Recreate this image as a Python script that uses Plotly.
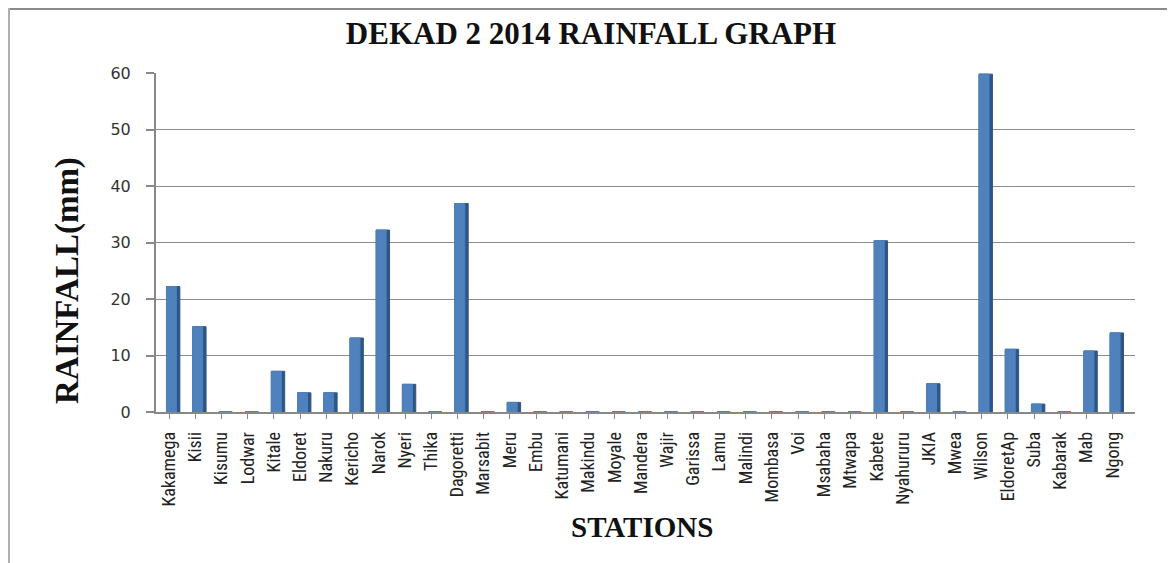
import plotly.graph_objects as go

stations = ["Kakamega", "Kisii", "Kisumu", "Lodwar", "Kitale", "Eldoret", "Nakuru", "Kericho",
            "Narok", "Nyeri", "Thika", "Dagoretti", "Marsabit", "Meru", "Embu", "Katumani",
            "Makindu", "Moyale", "Mandera", "Wajir", "Garissa", "Lamu", "Malindi", "Mombasa",
            "Voi", "Msabaha", "Mtwapa", "Kabete", "Nyahururu", "JKIA", "Mwea", "Wilson",
            "EldoretAp", "Suba", "Kabarak", "Mab", "Ngong"]
rainfall = [22.2, 15.1, 0, 0, 7.2, 3.4, 3.4, 13.1,
            32.2, 4.9, 0, 36.9, 0, 1.7, 0, 0,
            0, 0, 0, 0, 0, 0, 0, 0,
            0, 0, 0, 30.3, 0, 5.0, 0, 59.8,
            11.1, 1.4, 0, 10.8, 14.0]
y_ticks = [0, 10, 20, 30, 40, 50, 60]

OFF = 8  # page body margin
W, H = 1175 - OFF, 563 - OFF
L, R, T, B = 156 - OFF, 1135 - OFF, 73 - OFF, 412 - OFF  # plot area in figure pixels


def px_x(p):
    return (p - OFF - L) / (R - L)


def px_y(p):
    return (B - (p - OFF)) / (B - T)


idx = list(range(len(stations)))

fig = go.Figure()
# darker side face (3D look)
fig.add_trace(go.Bar(x=idx, y=rainfall, width=0.51, offset=-0.1,
                     marker=dict(color="#2E5587", line=dict(color="#2E5587", width=1)),
                     hoverinfo="skip", showlegend=False))
# front face
fig.add_trace(go.Bar(x=idx, y=rainfall, width=0.38, offset=-0.1,
                     marker=dict(color="#4F81BD", line=dict(color="#4F81BD", width=1)),
                     showlegend=False))

serif = "Liberation Serif, Times New Roman, serif"

fig.update_layout(
    width=W, height=H,
    margin=dict(l=L, r=W - R, t=T, b=H - B, pad=0),
    paper_bgcolor="white", plot_bgcolor="white",
    barmode="overlay",
    title=dict(text="<b>DEKAD 2 2014 RAINFALL GRAPH</b>",
               font=dict(family=serif, size=31, color="#111"),
               x=(591 - OFF) / W, xanchor="center", xref="container",
               y=1 - (33 - OFF) / H, yanchor="middle", yref="container"),
    xaxis=dict(
        range=[-0.5, len(stations) - 0.5 + 0.35],
        tickmode="array", tickvals=idx, ticktext=stations,
        tickangle=-90, tickson="boundaries",
        ticks="outside", ticklen=5, tickcolor="#888", tickwidth=1,
        showline=True, linecolor="#888", linewidth=1.5,
        showgrid=False, zeroline=False,
        tickfont=dict(family="Liberation Sans Narrow, Roboto Condensed, Arial Narrow, sans-serif",
                      size=18, color="#222"),
        ticklabelstandoff=6,
    ),
    yaxis=dict(
        range=[0, 60],
        tickmode="array", tickvals=y_ticks,
        ticks="outside", ticklen=8, tickcolor="#888", tickwidth=1.5,
        showline=True, linecolor="#888", linewidth=2,
        showgrid=True, gridcolor="#8C8C8C", gridwidth=1.2,
        zeroline=False,
        tickfont=dict(family="DejaVu Sans, Verdana, sans-serif", size=16, color="#333"),
        ticklabelstandoff=12,
    ),
    annotations=[
        dict(text="<b>RAINFALL(mm)</b>", textangle=-90,
             x=px_x(67), y=px_y(281), xref="paper", yref="paper",
             xanchor="center", yanchor="middle", showarrow=False,
             font=dict(family=serif, size=33, color="#111")),
        dict(text="<b>STATIONS</b>",
             x=px_x(642), y=px_y(527), xref="paper", yref="paper",
             xanchor="center", yanchor="middle", showarrow=False,
             font=dict(family=serif, size=29, color="#111")),
    ],
    shapes=[
        dict(type="line", xref="paper", yref="paper",
             x0=px_x(OFF), x1=px_x(1175), y0=px_y(OFF + 1), y1=px_y(OFF + 1),
             line=dict(color="#8A8A8A", width=2)),
        dict(type="line", xref="paper", yref="paper",
             x0=px_x(OFF + 1), x1=px_x(OFF + 1), y0=px_y(OFF), y1=px_y(563),
             line=dict(color="#B0B0B0", width=2)),
    ],
)

fig.write_html("out.html")
